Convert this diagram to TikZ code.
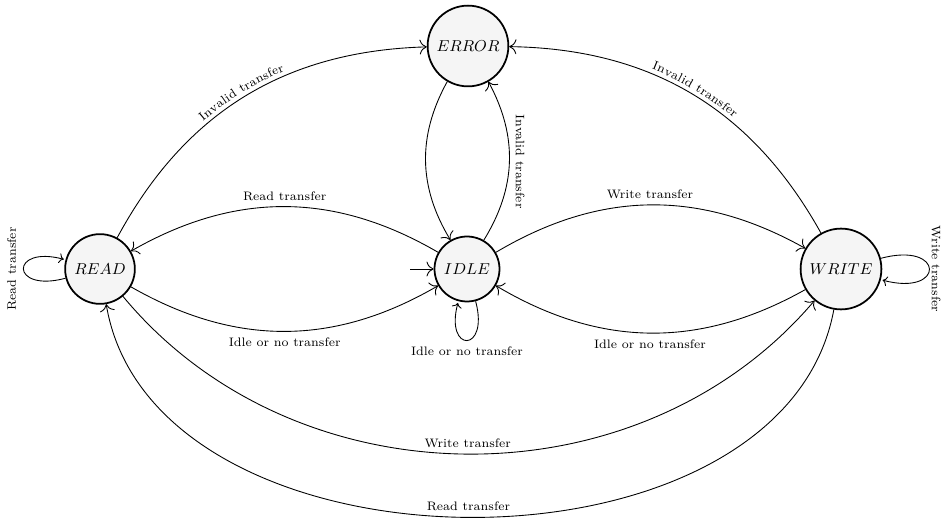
\documentclass[tikz,border=0pt]{standalone}
\usetikzlibrary{arrows.meta, decorations.text}
\begin{document}
\begin{tikzpicture}[x=0.02cm, y=0.02cm,
  state/.style={circle, draw, line width=1pt, fill=gray!8, inner sep=4pt, font=\small},
  trans/.style={-{To[scale=1.5]}, line width=0.5pt},
  lbl/.style={font=\scriptsize},
  curvedlbl/.style={decorate, decoration={text along path,
      text={|\scriptsize|#1}, text align=center, raise=2.5pt}}]
\useasboundingbox (0,0) rectangle (941,518);

% states
\node[state] (READ)  at (100,249) {$READ$};
\node[state] (IDLE)  at (467,249) {$IDLE$};
\node[state] (WRITE) at (841,249) {$WRITE$};
\node[state] (ERROR) at (468,472) {$ERROR$};

% initial state marker
\coordinate (init) at (410,249);
\draw[trans] (init) -- (IDLE);

% transitions to the error state
\draw[trans] (READ) to[bend left=30] (ERROR);
\path[curvedlbl=Invalid transfer] (READ) to[bend left=30] (ERROR);
\draw[trans] (WRITE) to[bend right=30] (ERROR);
\path[curvedlbl=Invalid transfer] (ERROR) to[bend left=30] (WRITE);
\draw[trans] (ERROR) to[bend right=30] (IDLE);
\draw[trans] (IDLE) to[bend right=30]
  node[lbl, midway, rotate=-90, anchor=south] {Invalid transfer} (ERROR);

% idle <-> read / write
\draw[trans] (IDLE) to[bend right=30] node[lbl, above] {Read transfer} (READ);
\draw[trans] (READ) to[bend right=30] node[lbl, below] {Idle or no transfer} (IDLE);
\draw[trans] (IDLE) to[bend left=30] node[lbl, above] {Write transfer} (WRITE);
\draw[trans] (WRITE) to[bend left=30] node[lbl, below] {Idle or no transfer} (IDLE);

% self loops
\path (IDLE) edge[trans, loop below] node[lbl, below] {Idle or no transfer} ();
\path (READ) edge[trans, loop left] node[lbl, rotate=90, anchor=south, inner sep=4pt] {Read transfer} ();
\path (WRITE) edge[trans, loop right] node[lbl, rotate=-90, anchor=south, inner sep=1.2pt] {Write transfer} ();

% read <-> write
\draw[trans] (READ) to[bend right=50] node[lbl, above] {Write transfer} (WRITE);
\draw[trans] (WRITE) to[bend left=80] node[lbl, above] {Read transfer} (READ);
\end{tikzpicture}
\end{document}
